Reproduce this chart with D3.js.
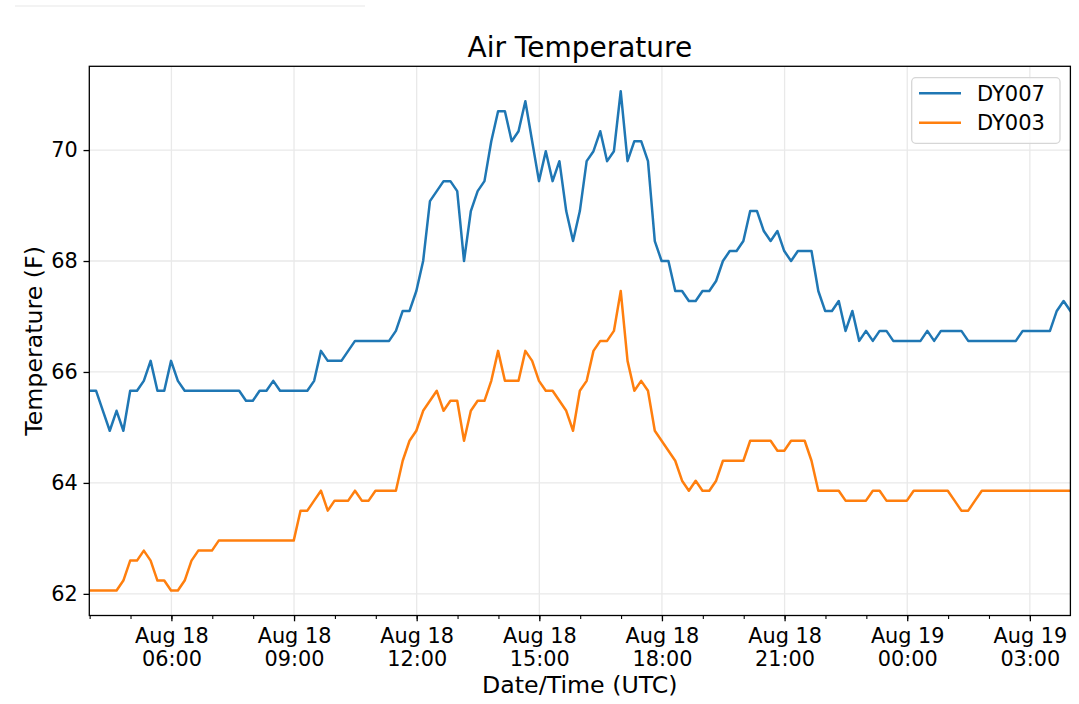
<!DOCTYPE html>
<html><head><meta charset="utf-8">
<script src="https://cdn.jsdelivr.net/npm/d3@7"></script>
<style>
body{margin:0;background:#fff}
svg{display:block}
text{font-family:"DejaVu Sans",sans-serif;fill:#000}
</style>
</head><body>
<svg id="c" width="1079" height="704"></svg>
<script>
// ---------------- data ----------------
const chartTitle = "Air Temperature";
const xLabel = "Date/Time (UTC)";
const yLabel = "Temperature (F)";
const seriesNames = ["DY007", "DY003"];
const seriesColors = ["#1f77b4", "#ff7f0e"];
const startTime = "2019-08-18T03:59:30Z";   // first sample
const stepMinutes = 10;                     // sampling interval
const yTicks = [62, 64, 66, 68, 70];

const dy007 = [
 65.66,65.66,65.30,64.94,65.30,64.94,65.66,65.66,65.84,66.20,
 65.66,65.66,66.20,65.84,65.66,65.66,65.66,65.66,65.66,65.66,
 65.66,65.66,65.66,65.48,65.48,65.66,65.66,65.84,65.66,65.66,
 65.66,65.66,65.66,65.84,66.38,66.20,66.20,66.20,66.38,66.56,
 66.56,66.56,66.56,66.56,66.56,66.74,67.10,67.10,67.46,68.00,
 69.08,69.26,69.44,69.44,69.26,68.00,68.90,69.26,69.44,70.16,
 70.70,70.70,70.16,70.34,70.88,70.16,69.44,69.98,69.44,69.80,
 68.90,68.36,68.90,69.80,69.98,70.34,69.80,69.98,71.06,69.80,
 70.16,70.16,69.80,68.36,68.00,68.00,67.46,67.46,67.28,67.28,
 67.46,67.46,67.64,68.00,68.18,68.18,68.36,68.90,68.90,68.54,
 68.36,68.54,68.18,68.00,68.18,68.18,68.18,67.46,67.10,67.10,
 67.28,66.74,67.10,66.56,66.74,66.56,66.74,66.74,66.56,66.56,
 66.56,66.56,66.56,66.74,66.56,66.74,66.74,66.74,66.74,66.56,
 66.56,66.56,66.56,66.56,66.56,66.56,66.56,66.74,66.74,66.74,
 66.74,66.74,67.10,67.28,67.10
];

const dy003 = [
 62.06,62.06,62.06,62.06,62.06,62.24,62.60,62.60,62.78,62.60,
 62.24,62.24,62.06,62.06,62.24,62.60,62.78,62.78,62.78,62.96,
 62.96,62.96,62.96,62.96,62.96,62.96,62.96,62.96,62.96,62.96,
 62.96,63.50,63.50,63.68,63.86,63.50,63.68,63.68,63.68,63.86,
 63.68,63.68,63.86,63.86,63.86,63.86,64.40,64.76,64.94,65.30,
 65.48,65.66,65.30,65.48,65.48,64.76,65.30,65.48,65.48,65.84,
 66.38,65.84,65.84,65.84,66.38,66.20,65.84,65.66,65.66,65.48,
 65.30,64.94,65.66,65.84,66.38,66.56,66.56,66.74,67.46,66.20,
 65.66,65.84,65.66,64.94,64.76,64.58,64.40,64.04,63.86,64.04,
 63.86,63.86,64.04,64.40,64.40,64.40,64.40,64.76,64.76,64.76,
 64.76,64.58,64.58,64.76,64.76,64.76,64.40,63.86,63.86,63.86,
 63.86,63.68,63.68,63.68,63.68,63.86,63.86,63.68,63.68,63.68,
 63.68,63.86,63.86,63.86,63.86,63.86,63.86,63.68,63.50,63.50,
 63.68,63.86,63.86,63.86,63.86,63.86,63.86,63.86,63.86,63.86,
 63.86,63.86,63.86,63.86,63.86
];

// ---------------- layout ----------------
const svg = d3.select("#c");
const P = {l: 89.3, t: 66.3, r: 1070.4, b: 615.5};
const gridColor = "#e9e9e9";
const tickFont = 20.8;

const t0 = new Date(startTime);
const times = dy007.map((_, i) => new Date(+t0 + i * stepMinutes * 60000));
const series = [dy007, dy003];

const x = d3.scaleUtc().domain(d3.extent(times)).range([P.l, P.r]);
const allV = dy007.concat(dy003);
const [lo, hi] = d3.extent(allV);
const padV = (hi - lo) * 0.05;
const y = d3.scaleLinear().domain([lo - padV, hi + padV]).range([P.b, P.t]);

// faint artifact line at top-left
svg.append("rect").attr("x", 15).attr("y", 5).attr("width", 350).attr("height", 2).attr("fill", "#f3f3f3");

const majorX = x.ticks(d3.utcHour.every(3));
const minorX = x.ticks(d3.utcHour.every(1));

// grid
const grid = svg.append("g");
grid.selectAll(".gx").data(majorX).join("line")
  .attr("x1", d => x(d)).attr("x2", d => x(d))
  .attr("y1", P.t).attr("y2", P.b)
  .attr("stroke", gridColor).attr("stroke-width", 1.3);
grid.selectAll(".gy").data(yTicks).join("line")
  .attr("y1", d => y(d)).attr("y2", d => y(d))
  .attr("x1", P.l).attr("x2", P.r)
  .attr("stroke", gridColor).attr("stroke-width", 1.3);

// lines
svg.append("clipPath").attr("id", "clip").append("rect")
  .attr("x", P.l).attr("y", P.t).attr("width", P.r - P.l).attr("height", P.b - P.t);
const line = d3.line().x((d, i) => x(times[i])).y(d => y(d));
series.forEach((s, k) => {
  svg.append("path").datum(s)
    .attr("clip-path", "url(#clip)")
    .attr("fill", "none")
    .attr("stroke", seriesColors[k])
    .attr("stroke-width", 2.5)
    .attr("stroke-linejoin", "round")
    .attr("stroke-linecap", "square")
    .attr("d", line);
});

// spines
svg.append("rect").attr("x", P.l).attr("y", P.t)
  .attr("width", P.r - P.l).attr("height", P.b - P.t)
  .attr("fill", "none").attr("stroke", "#000").attr("stroke-width", 1.3);

// x axis minor ticks
const gMinor = svg.append("g").attr("transform", `translate(0,${P.b})`)
  .call(d3.axisBottom(x).tickValues(minorX).tickSize(3.4).tickFormat(""));
gMinor.select(".domain").remove();
gMinor.selectAll("line").attr("stroke", "#000").attr("stroke-width", 1.1);

// x axis major ticks with 2-line labels
const fmtDay = d3.utcFormat("%b %d");
const fmtHour = d3.utcFormat("%H:%M");
const gX = svg.append("g").attr("transform", `translate(0,${P.b})`)
  .call(d3.axisBottom(x).tickValues(majorX).tickSize(5.8).tickPadding(5.8).tickFormat(""));
gX.select(".domain").remove();
gX.selectAll("line").attr("stroke", "#000").attr("stroke-width", 1.3);
gX.selectAll(".tick").each(function(d) {
  const t = d3.select(this).select("text")
    .attr("y", null).attr("dy", null)
    .attr("font-size", tickFont).attr("font-family", "DejaVu Sans")
    .attr("text-anchor", "middle").attr("fill", "#000");
  t.text(null);
  t.append("tspan").attr("x", 0).attr("y", 27.2).text(fmtDay(d));
  t.append("tspan").attr("x", 0).attr("y", 50.6).text(fmtHour(d));
});

// y axis
const gY = svg.append("g").attr("transform", `translate(${P.l},0)`)
  .call(d3.axisLeft(y).tickValues(yTicks).tickSize(5.8).tickPadding(5.8).tickFormat(d3.format("d")));
gY.select(".domain").remove();
gY.selectAll("line").attr("stroke", "#000").attr("stroke-width", 1.3);
gY.selectAll("text").attr("font-size", tickFont).attr("font-family", "DejaVu Sans").attr("fill", "#000");

// labels
svg.append("text").attr("x", (P.l + P.r) / 2).attr("y", 57)
  .attr("text-anchor", "middle").attr("font-size", 28).text(chartTitle);
svg.append("text").attr("x", (P.l + P.r) / 2).attr("y", 693)
  .attr("text-anchor", "middle").attr("font-size", 23.7).text(xLabel);
svg.append("text").attr("transform", `translate(42,${(P.t + P.b) / 2}) rotate(-90)`)
  .attr("text-anchor", "middle").attr("font-size", 23.7).text(yLabel);

// legend
const lg = svg.append("g");
lg.append("rect").attr("x", 911.7).attr("y", 77.7).attr("width", 148.3).attr("height", 65.6)
  .attr("rx", 4).attr("fill", "#fff").attr("fill-opacity", 0.8)
  .attr("stroke", "#d6d6d6").attr("stroke-width", 1.3);
seriesNames.forEach((n, k) => {
  const ly = 93.3 + k * 29.4;
  lg.append("line").attr("x1", 919).attr("x2", 961).attr("y1", ly).attr("y2", ly)
    .attr("stroke", seriesColors[k]).attr("stroke-width", 2.5);
  lg.append("text").attr("x", 977).attr("y", ly + 7.6).attr("font-size", 21).text(n);
});
</script>
</body></html>
